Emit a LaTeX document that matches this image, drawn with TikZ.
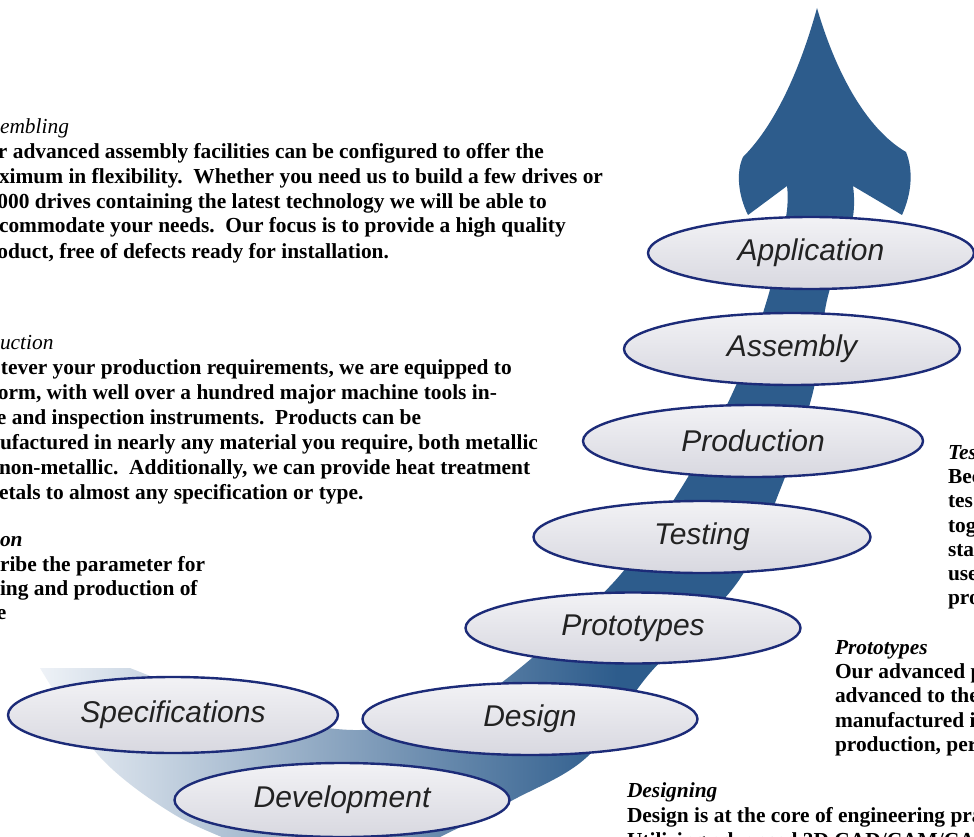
\documentclass[tikz,border=0pt]{standalone}
\usepackage{fontspec}
\setmainfont{Liberation Serif}
\newfontfamily\labfam{Liberation Sans}
\usetikzlibrary{shapes.geometric}
\definecolor{arrowblue}{HTML}{2D5C8C}
\definecolor{bandpale}{HTML}{EEF2F7}
\definecolor{ellline}{HTML}{1C2B78}
\definecolor{elltop}{HTML}{F2F2F5}
\definecolor{ellbot}{HTML}{D8D8E0}
\definecolor{labtext}{HTML}{222222}
\pgfdeclarehorizontalshading{bandfade}{100bp}{color(0bp)=(bandpale); color(25bp)=(bandpale); color(58bp)=(arrowblue); color(100bp)=(arrowblue)}
\newcommand\labfont{\labfam\itshape\fontsize{30}{30}\selectfont}
\newcommand\bodyfont{\fontsize{21.4}{25}\selectfont\bfseries}
\newcommand\headfont{\fontsize{21.4}{25}\selectfont\itshape}
\newcommand\bheadfont{\fontsize{21.4}{25}\selectfont\bfseries\itshape}
\frenchspacing
\tikzset{
  ell/.style={ellipse, draw=ellline, line width=2.4pt, top color=elltop, bottom color=ellbot,
    minimum width=335pt, minimum height=72pt, inner sep=0pt, font=\labfont, text=labtext},
  ln/.style={anchor=base west, inner sep=0pt, outer sep=0pt, font=\bodyfont, text=black},
  hd/.style={ln, font=\headfont},
  bhd/.style={ln, font=\bheadfont}
}
\begin{document}
\begin{tikzpicture}[x=1pt,y=-1pt]
\useasboundingbox (0,0) rectangle (974,837);
\clip (0,0) rectangle (974,837);
\fill[white] (0,0) rectangle (974,837);

% swoosh arrow
\shade[shading=bandfade]
  (817,8) .. controls (835,70) and (865,128) .. (906,152)
  .. controls (914,172) and (911,195) .. (902,215)
  -- (853,186)
  -- plot[smooth, tension=0.55] coordinates {(853,186) (852,222) (827,300) (813,392) (780,490) (737,583) (650,673) (587,757) (513,800) (430,842)}
  -- (250,848)
  -- plot[smooth, tension=0.55] coordinates {(250,848) (175,815) (100,757) (40,668)}
  -- (130,668)
  -- plot[smooth, tension=0.55] coordinates {(130,668) (250,712) (353,730) (440,716) (505,680) (613,583) (680,490) (733,392) (767,300) (786,217) (787,186)}
  -- (748,215)
  .. controls (738,195) and (736,172) .. (743,157)
  .. controls (775,125) and (800,70) .. (817,8) -- cycle;

% stage ellipses
\node[ell, minimum width=330pt, minimum height=76pt] (spec) at (173,715) {Specifications};
\node[ell, minimum height=74pt] (dev) at (342,800) {Development};
\node[ell] (des) at (530,719) {Design};
\node[ell, minimum height=71pt] (proto) at (633,628) {Prototypes};
\node[ell, minimum width=337pt] (test) at (702,537) {Testing};
\node[ell, minimum width=340pt] (prod) at (753,441) {Production};
\node[ell, minimum width=336pt] (asm) at (792,349) {Assembly};
\node[ell, minimum width=326pt] (app) at (811,253) {Application};

% left block 1
\node[hd] (a0) at (0,134) {embling};
\node[ln] (a1) at (-2,159) {r advanced assembly facilities can be configured to offer the};
\node[ln] (a2) at (-1,184) {ximum in flexibility.\ \ Whether you need us to build a few drives or};
\node[ln] (a3) at (-2.5,208) {000 drives containing the latest technology we will be able to};
\node[ln] (a4) at (-1,233) {commodate your needs.\ \ Our focus is to provide a high quality};
\node[ln] (a5) at (-2.5,258) {oduct, free of defects ready for installation.};

% left block 2
\node[hd] (b0) at (0,349) {uction};
\node[ln] (b1) at (1,374) {tever your production requirements, we are equipped to};
\node[ln] (b2) at (-2,399) {orm, with well over a hundred major machine tools in-};
\node[ln] (b3) at (-3,424) {e and inspection instruments.\ \ Products can be};
\node[ln] (b4) at (0,449) {ufactured in nearly any material you require, both metallic};
\node[ln] (b5) at (-1,474) {non-metallic.\ \ Additionally, we can provide heat treatment};
\node[ln] (b6) at (-1,499) {etals to almost any specification or type.};

% left block 3
\node[bhd] (c0) at (0,546) {on};
\node[ln] (c1) at (0,571) {ribe the parameter for};
\node[ln] (c2) at (0,595) {ing and production of};
\node[ln] (c3) at (-3,619) {e};

% right block testing
\node[bhd] (t0) at (948,459) {Tes};
\node[ln] (t1) at (948,483) {Bec};
\node[ln] (t2) at (948,507) {tes};
\node[ln] (t3) at (948,532) {tog};
\node[ln] (t4) at (948,556) {sta};
\node[ln] (t5) at (948,580) {use};
\node[ln] (t6) at (948,604) {pro};

% right block prototypes
\node[bhd] (p0) at (835,654) {Prototypes};
\node[ln] (p1) at (835,678) {Our advanced p};
\node[ln] (p2) at (835,702) {advanced to the};
\node[ln] (p3) at (835,727) {manufactured i};
\node[ln] (p4) at (835,751) {production, per};

% bottom block designing
\node[bhd] (d0) at (627,797) {Designing};
\node[ln] (d1) at (627,822) {Design is at the core of engineering pra};
\node[ln] (d2) at (627,847) {Utilizing advanced 3D CAD/CAM/CA};
\end{tikzpicture}
\end{document}
